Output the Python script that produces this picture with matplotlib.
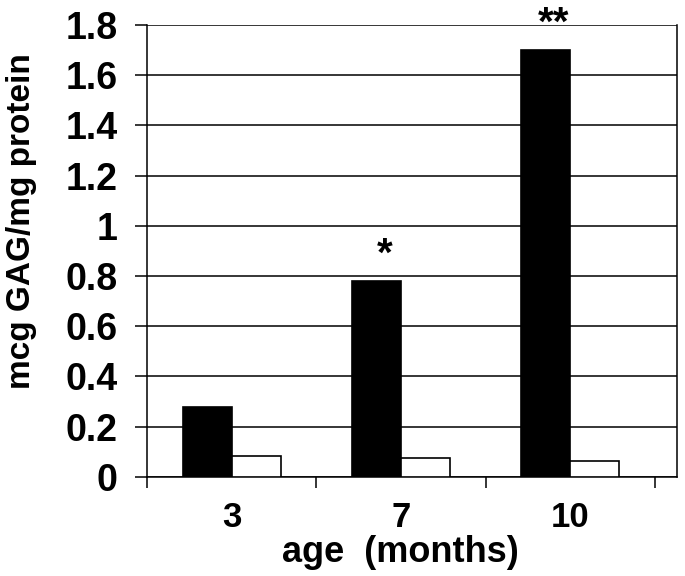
import matplotlib.pyplot as plt
import numpy as np

plt.rcParams['font.family'] = ['Liberation Sans', 'DejaVu Sans']
plt.rcParams['font.weight'] = 'bold'

ages = ['3', '7', '10']
black_vals = [0.28, 0.78, 1.70]
white_vals = [0.084, 0.074, 0.064]
stars = ['', '*', '**']

fig = plt.figure(figsize=(6.85, 5.76), dpi=100)
ax = fig.add_axes([0.2146, 0.172, 0.988 - 0.2146, 0.9566 - 0.172])

x = np.arange(len(ages))
w = 0.29
ax.bar(x - w / 2, black_vals, w, color='black', edgecolor='black', linewidth=1.2, zorder=3)
ax.bar(x + w / 2, white_vals, w, color='white', edgecolor='black', linewidth=1.2, zorder=3)

# significance marks above the black bars
for i in range(len(ages)):
    if stars[i]:
        ax.text(x[i] - w / 2 + 0.05, black_vals[i] + 0.105, stars[i], ha='center', va='center',
                fontsize=29, fontweight='bold', clip_on=False)

ax.set_ylim(0, 1.8)
ax.set_xlim(-0.5, 2.63)
ax.set_yticks(np.arange(0, 1.81, 0.2))
ax.set_yticklabels(['0', '0.2', '0.4', '0.6', '0.8', '1', '1.2', '1.4', '1.6', '1.8'])
ax.yaxis.grid(True, color='black', linewidth=1.1)
ax.set_axisbelow(True)

ax.set_xticks(x)
ax.set_xticklabels(ages)
ax.set_xticks([-0.5, 0.5, 1.5, 2.5], minor=True)
ax.tick_params(axis='x', which='major', length=0, labelsize=25, pad=17)
ax.tick_params(axis='x', which='minor', length=8, width=1.1, direction='out')
ax.tick_params(axis='y', length=9, width=1.1, direction='out', labelsize=27, pad=12)

for s in ['left', 'bottom', 'right', 'top']:
    ax.spines[s].set_linewidth(1.1)
ax.spines['top'].set_visible(False)

ax.set_ylabel('mcg GAG/mg protein', fontsize=24, fontweight='bold')
ax.yaxis.set_label_coords(-0.2075, 0.566)
ax.set_xlabel('age  (months)', fontsize=26, fontweight='bold')
ax.xaxis.set_label_coords(0.479, -0.128)

fig.savefig('out.png', dpi=100)
